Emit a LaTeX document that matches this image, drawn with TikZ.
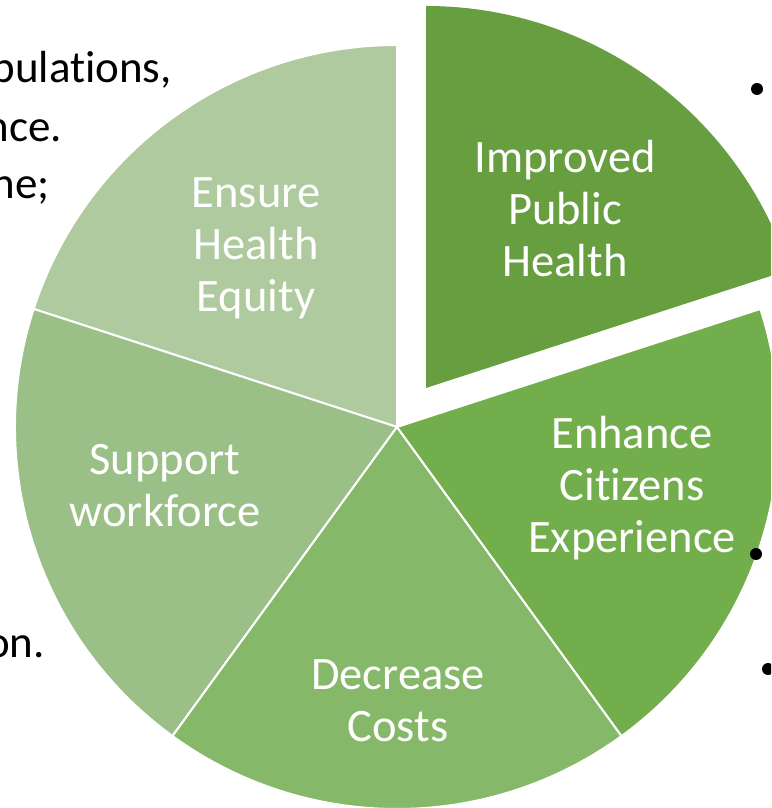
\documentclass[tikz,border=0pt]{standalone}
\usepackage{fontspec}
\setmainfont{Carlito}[Ligatures=NoCommon]
\definecolor{cImp}{HTML}{669E40}
\definecolor{cEnh}{HTML}{72AE4C}
\definecolor{cDec}{HTML}{86B86A}
\definecolor{cSup}{HTML}{9AC088}
\definecolor{cEqu}{HTML}{AECA9E}
\begin{document}
\begin{tikzpicture}[x=1pt,y=1pt,
  lbl/.style={text=white, align=center, font=\fontsize{46.5}{52}\selectfont},
  side/.style={text=black, anchor=base east, inner sep=0pt, font=\fontsize{45}{58}\selectfont},
  sector/.style={draw=white, line width=2pt},
  bul/.style={circle, fill=black, inner sep=0pt, minimum size=12pt}]
\useasboundingbox (0,0) rectangle (771,808);
\clip (0,0) rectangle (771,808);
% partially hidden side text
\node[side] (t1) at (172,725) {pulations,};
\node[side] (t2) at (62,666) {nce.};
\node[side] (t3) at (50,609) {ne;};
\node[side] (t4) at (45,150) {on.};
% pie
\coordinate (C) at (397,381);
\coordinate (E) at (426,420);
\fill[cEqu, sector] (C) -- ++(90:382pt) arc[start angle=90, end angle=162, radius=382pt] -- cycle;
\fill[cSup, sector] (C) -- ++(162:382pt) arc[start angle=162, end angle=234, radius=382pt] -- cycle;
\fill[cDec, sector] (C) -- ++(234:382pt) arc[start angle=234, end angle=306, radius=382pt] -- cycle;
\fill[cEnh, sector] (C) -- ++(306:382pt) arc[start angle=306, end angle=378, radius=382pt] -- cycle;
\fill[cImp] (E) -- ++(18:382pt) arc[start angle=18, end angle=90, radius=382pt] -- cycle;
% labels
\node[lbl] (imp) at (565,599) {Improved\\Public\\Health};
\node[lbl] (equ) at (256,560) {Ensure\\Health\\Equity};
\node[lbl] (sup) at (165,322) {Support\\workforce};
\node[lbl] (dec) at (398,107) {Decrease\\Costs};
\node[lbl] (enh) at (632,320) {Enhance\\Citizens\\Experience};
% bullets
\node[bul] (b1) at (757,719) {};
\node[bul] (b2) at (756,254) {};
\node[bul] (b3) at (768,139) {};
\end{tikzpicture}
\end{document}
